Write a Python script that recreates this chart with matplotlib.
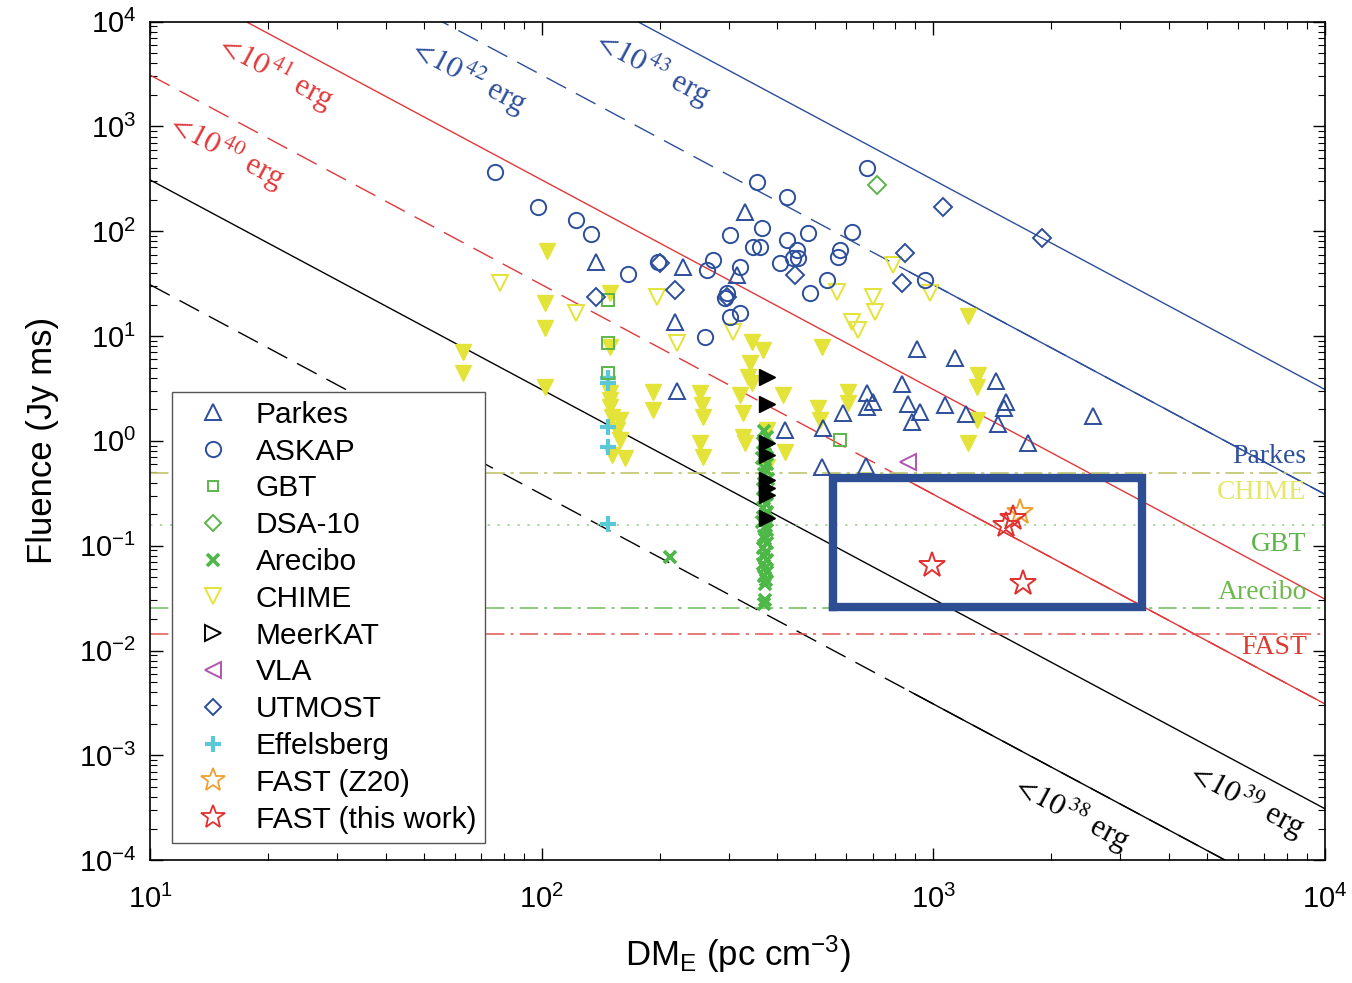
import numpy as np
import matplotlib
matplotlib.use("Agg")
import matplotlib.pyplot as plt
from matplotlib.lines import Line2D
from matplotlib.ticker import LogLocator, NullFormatter

plt.rcParams['font.family'] = ['Liberation Sans', 'DejaVu Sans']
plt.rcParams['mathtext.fontset'] = 'custom'
plt.rcParams['mathtext.rm'] = 'Liberation Sans'
plt.rcParams['mathtext.it'] = 'Liberation Sans:italic'
plt.rcParams['mathtext.bf'] = 'Liberation Sans:bold'

# ---------------- data (DM_E in pc cm^-3, fluence in Jy ms) ----------------
parkes_dm = [138, 230, 315, 330, 219, 221, 418, 522, 588, 677, 701, 677, 832, 908,
             861, 925, 882, 1072, 1136, 1211, 1445, 1532, 1514, 1462, 1742, 2553, 520, 673]
parkes_f = [51, 45.8, 38.5, 153, 13.7, 3.0, 1.27, 1.33, 1.85, 2.87, 2.35, 2.11, 3.5, 7.55,
            2.25, 1.89, 1.52, 2.21, 6.19, 1.81, 3.74, 2.35, 2.07, 1.45, 0.957, 1.73, 0.565, 0.577]

askap_dm = [76, 98, 122, 134, 166, 198, 264, 274, 303, 365, 346, 361, 321, 355, 423, 423,
            478, 405, 448, 438, 451, 578, 571, 619, 677, 535, 484, 952, 297, 303, 321, 261, 294]
askap_f = [370, 171, 129, 94.6, 39.3, 51.2, 42.9, 53.4, 92.7, 108, 71.1, 71.1, 45.8, 297, 213, 83,
           96.9, 50, 66.5, 55.9, 55.9, 66.5, 57.1, 98.9, 403, 34.4, 25.9, 34.4, 25.9, 15.3, 16.7, 9.85, 23.2]

gbt_dm = [578, 148, 148, 148]
gbt_f = [1.02, 22.2, 8.6, 4.45]

dsa_dm = [718]
dsa_f = [278]

arecibo_dm = [370, 375, 368, 377, 372, 366, 376, 371, 369, 378, 373, 367, 375, 370, 374, 368,
              377, 371, 366, 373, 376, 369, 372, 375, 368, 374, 370, 377, 367, 372, 375, 369,
              373, 371, 372, 370, 213]
arecibo_f = [1.25, 1.1, 0.95, 0.85, 0.75, 0.68, 0.6, 0.54, 0.48, 0.43, 0.39, 0.35, 0.31, 0.28,
             0.25, 0.23, 0.21, 0.19, 0.17, 0.155, 0.14, 0.125, 0.115, 0.105, 0.095, 0.088, 0.08,
             0.073, 0.067, 0.061, 0.056, 0.051, 0.047, 0.043, 0.03, 0.028, 0.078]

chime_dm = [78.3, 122, 197, 221, 308, 568, 701, 709, 619, 642, 789, 980]
chime_f = [32.2, 16.7, 23.7, 8.63, 11.0, 26.4, 23.7, 17.1, 13.7, 11.5, 47.9, 25.9]

chime_rep_dm = [63, 63, 103, 102, 102, 102, 149, 149, 149, 149, 149, 151, 156, 158, 151, 163, 158,
                192, 192, 254, 257, 258, 254, 258, 345, 367, 340, 336, 345, 321, 327, 327, 330,
                376, 376, 413, 418, 520, 507, 514, 605, 605, 1225, 1300, 1291, 1291, 1225]
chime_rep_f = [7.08, 4.46, 65.1, 20.8, 12.0, 3.28, 25.9, 7.89, 2.88, 2.46, 2.11, 1.69, 1.27, 1.02,
               0.735, 0.687, 1.58, 2.94, 1.98, 2.88, 2.21, 1.69, 0.957, 0.703, 8.81, 7.39, 5.56,
               4.08, 3.58, 2.75, 1.85, 1.09, 0.957, 1.27, 0.565, 2.75, 0.785, 7.89, 2.07, 1.58,
               2.94, 2.31, 15.6, 4.27, 3.28, 1.58, 0.957]

meerkat_dm = [376, 376, 376, 376, 376, 376, 376, 376]
meerkat_f = [4.08, 2.26, 0.95, 0.735, 0.424, 0.356, 0.305, 0.184]

vla_dm = [861]
vla_f = [0.63]

utmost_dm = [200, 219, 138, 444, 297, 845, 832, 1059, 1892]
utmost_f = [50, 27.7, 23.7, 38.5, 23.7, 62.4, 32.2, 171, 86.7]

effelsberg_dm = [148, 148, 148, 148, 148]
effelsberg_f = [3.99, 3.58, 1.36, 0.877, 0.161]

fast_z20_dm = [1663]
fast_z20_f = [0.21]

fast_this_dm = [1532, 1597, 991, 1693]
fast_this_f = [0.158, 0.184, 0.0655, 0.0441]

# energy lines (F proportional to DM^-2), read at DM = 10 and DM = 1e4
line_dm = [10, 1e4]
line_energy = ['38', '39', '40', '41', '42', '43']
line_f_start = [30.9, 309, 3090, 30900, 309000, 3090000]
line_f_end = [3.09e-5, 3.09e-4, 3.09e-3, 3.09e-2, 0.309, 3.09]
line_colors = ['black', 'black', '#E2383A', '#E2383A', '#2D4E9B', '#2D4E9B']
line_dashed = [True, False, True, False, True, False]
solid_from_dm = 870
solid_from_f = [4.08e-3, 0.408, 40.8]   # dashed lines become solid at large DM

label_dm = [2233, 6250, 15.6, 20.8, 64.5, 191]
label_f = [2.81e-4, 3.74e-4, 600, 3334, 3119, 3719]

# telescope thresholds
thr_names = ['Parkes', 'CHIME', 'GBT', 'Arecibo', 'FAST']
thr_f = [0.495, 0.495, 0.158, 0.0255, 0.0144]
thr_colors = ['#8C9CB8', '#D6D85A', '#8FD07F', '#6CBF58', '#E05555']
thr_text_f = [0.703, 0.319, 0.1016, 0.0354, 0.01057]
thr_text_colors = ['#2D4E9B', '#E6E66A', '#5CB548', '#6DB84F', '#DD3B30']

box_dm = [554, 3410]
box_f = [0.026, 0.443]

blue = '#2D4E9B'
green = '#5CB548'
yellow = '#E3E33A'

# ---------------- figure ----------------
fig = plt.figure(figsize=(13.52, 9.83), dpi=100)
ax = fig.add_axes([0.111, 0.125, 0.869, 0.853])
ax.set_xscale('log')
ax.set_yscale('log')
ax.set_xlim(10, 1e4)
ax.set_ylim(1e-4, 1e4)

# energy lines
for i in range(len(line_energy)):
    if line_dashed[i]:
        ln, = ax.plot(line_dm, [line_f_start[i], line_f_end[i]], color=line_colors[i], lw=1.0)
        ln.set_dashes([16, 8])
        j = i // 2
        ax.plot([solid_from_dm, line_dm[1]], [solid_from_f[j], line_f_end[i]],
                color=line_colors[i], lw=1.0)
    else:
        ax.plot(line_dm, [line_f_start[i], line_f_end[i]], color=line_colors[i], lw=1.0)

for i in range(len(line_energy)):
    ax.text(label_dm[i], label_f[i], r'$<\!10^{\,' + line_energy[i] + r'}$ erg',
            color=line_colors[i], fontsize=22, family='Liberation Serif',
            math_fontfamily='stix', rotation=-28.1, rotation_mode='anchor',
            ha='center', va='center')

# thresholds
dash_styles = [[12, 4, 2, 4], [12, 4, 2, 4], [1.5, 5], [12, 4, 2, 4], [12, 4, 2, 4]]
for i in range(len(thr_names)):
    hl = ax.axhline(thr_f[i], color=thr_colors[i], lw=1.1, alpha=0.85 if i < 2 else 1)
    hl.set_dashes(dash_styles[i])
    ax.text(0.9845, thr_text_f[i], thr_names[i], transform=ax.get_yaxis_transform(),
            color=thr_text_colors[i], fontsize=20, family='Liberation Serif',
            ha='right', va='center')

# data points
ms = 11
mew = 1.4
ax.plot(chime_rep_dm, chime_rep_f, 'v', color=yellow, ms=12, mec=yellow, ls='none')
ax.plot(chime_dm, chime_f, 'v', mfc='none', mec=yellow, ms=ms, mew=mew, ls='none')
ax.plot(arecibo_dm, arecibo_f, 'x', color='#4DB848', ms=9, mew=2.6, ls='none')
ax.plot(effelsberg_dm, effelsberg_f, '+', color='#5BC8D8', ms=11, mew=3, ls='none')
ax.plot(gbt_dm, gbt_f, 's', mfc='none', mec=green, ms=8, mew=mew, ls='none')
ax.plot(meerkat_dm, meerkat_f, '>', color='black', ms=12, ls='none')
ax.plot(parkes_dm, parkes_f, '^', mfc='none', mec=blue, ms=ms, mew=mew, ls='none')
ax.plot(askap_dm, askap_f, 'o', mfc='none', mec=blue, ms=ms, mew=mew, ls='none')
ax.plot(utmost_dm, utmost_f, 'D', mfc='none', mec=blue, ms=9, mew=mew, ls='none')
ax.plot(dsa_dm, dsa_f, 'D', mfc='none', mec=green, ms=9, mew=mew, ls='none')
ax.plot(vla_dm, vla_f, '<', mfc='none', mec='#B055B0', ms=ms, mew=mew, ls='none')
ax.plot(fast_z20_dm, fast_z20_f, '*', mfc='none', mec='#F0A030', ms=19, mew=1.4, ls='none')
ax.plot(fast_this_dm, fast_this_f, '*', mfc='none', mec='#E03030', ms=19, mew=1.4, ls='none')

# highlight box
ax.plot([box_dm[0], box_dm[1], box_dm[1], box_dm[0], box_dm[0]],
        [box_f[0], box_f[0], box_f[1], box_f[1], box_f[0]],
        color='#2E4E93', lw=6, solid_joinstyle='miter', zorder=5)

# axes styling
for sp in ax.spines.values():
    sp.set_linewidth(1.2)
ax.xaxis.set_minor_locator(LogLocator(base=10, subs=np.arange(2, 10), numticks=100))
ax.yaxis.set_minor_locator(LogLocator(base=10, subs=np.arange(2, 10), numticks=100))
ax.yaxis.set_major_locator(LogLocator(base=10, numticks=100))
ax.xaxis.set_minor_formatter(NullFormatter())
ax.yaxis.set_minor_formatter(NullFormatter())
ax.tick_params(which='both', direction='in', top=True, right=True, labelsize=21)
ax.tick_params(which='major', length=9, width=1.0)
ax.tick_params(which='minor', length=5, width=0.8)
ax.tick_params(axis='x', pad=18)
ax.tick_params(axis='y', pad=10)

ax.set_xlabel(r'DM$_{\mathrm{E}}$ (pc cm$^{-3}$)', fontsize=25, labelpad=14)
ax.set_ylabel('Fluence (Jy ms)', fontsize=25, labelpad=14)

# legend
handles = [
    Line2D([], [], marker='^', ls='none', mfc='none', mec=blue, ms=11, mew=mew),
    Line2D([], [], marker='o', ls='none', mfc='none', mec=blue, ms=11, mew=mew),
    Line2D([], [], marker='s', ls='none', mfc='none', mec=green, ms=7, mew=mew),
    Line2D([], [], marker='D', ls='none', mfc='none', mec=green, ms=8.5, mew=mew),
    Line2D([], [], marker='x', ls='none', color='#4DB848', ms=8, mew=2.6),
    Line2D([], [], marker='v', ls='none', mfc='none', mec=yellow, ms=11, mew=mew),
    Line2D([], [], marker='>', ls='none', mfc='none', mec='black', ms=11, mew=mew),
    Line2D([], [], marker='<', ls='none', mfc='none', mec='#B055B0', ms=11, mew=mew),
    Line2D([], [], marker='D', ls='none', mfc='none', mec=blue, ms=8.5, mew=mew),
    Line2D([], [], marker='+', ls='none', color='#5BC8D8', ms=11, mew=3),
    Line2D([], [], marker='*', ls='none', mfc='none', mec='#F0A030', ms=18, mew=1.3),
    Line2D([], [], marker='*', ls='none', mfc='none', mec='#E03030', ms=18, mew=1.3),
]
names = ['Parkes', 'ASKAP', 'GBT', 'DSA-10', 'Arecibo', 'CHIME', 'MeerKAT', 'VLA',
         'UTMOST', 'Effelsberg', 'FAST (Z20)', 'FAST (this work)']
leg = ax.legend(handles, names, loc='upper left', bbox_to_anchor=(0.0187, 0.5585),
                borderaxespad=0, fontsize=21.5, frameon=True, fancybox=False,
                framealpha=1, edgecolor='#555555', borderpad=0.3, handlelength=2.15,
                handletextpad=0.35, labelspacing=0.295)
leg.get_frame().set_linewidth(1.0)
leg.set_zorder(6)

fig.savefig('out.png', dpi=100)
